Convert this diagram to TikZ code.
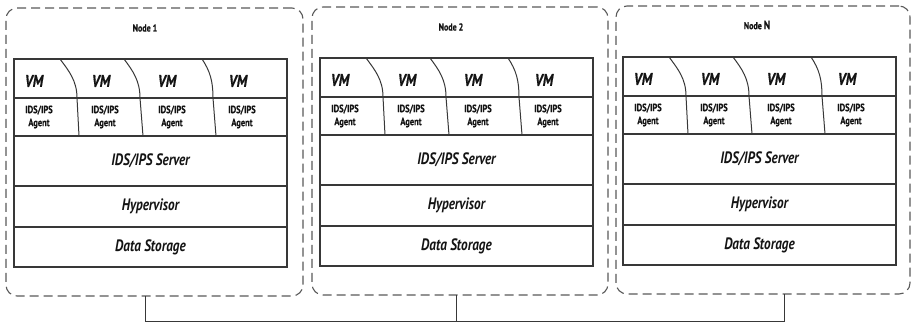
\documentclass[tikz,border=0pt]{standalone}
\usepackage{fontspec}
\newfontfamily\lblfont[FakeStretch=0.8]{PT Sans}
\newfontfamily\heavyfont[FakeStretch=0.8, FakeBold=0.6]{PT Sans}
\definecolor{ink}{HTML}{141414}
\definecolor{linegray}{HTML}{383838}
\definecolor{dashgray}{HTML}{5A5A5A}

% One host: VM row, agent row and the three shared layers below them.
% #1 name prefix, #2 left edge, #3 top edge
\newcommand\hoststack[3]{%
\begin{scope}[shift={(#2,#3)}]
  \node[layer, minimum height=39pt] (#1vm)  at (0,0)   {};
  \node[layer, minimum height=38pt] (#1ag)  at (0,39)  {};
  \node[layer, minimum height=50pt] (#1srv) at (0,77)  {IDS/IPS Server};
  \node[layer, minimum height=41pt] (#1hyp) at (0,127) {Hypervisor};
  \node[layer, minimum height=40pt] (#1sto) at (0,168) {Data Storage};
  \draw[line width=2.2pt, draw=linegray] (#1ag.south west) -- (#1ag.south east);
  % curved separators between the virtual machines
  \draw[divider] (46,0)  .. controls (55,12)  and (63,22)  .. (63,39)  -- (65,77);
  \draw[divider] (110,0) .. controls (119,12) and (126,22) .. (126,39) -- (129,77);
  \draw[divider] (188,0) .. controls (196,12) and (199,22) .. (199,39) -- (202,77);
  \node[vmlabel] (#1vmA) at (20,22)  {VM};
  \node[vmlabel] (#1vmB) at (87,22)  {VM};
  \node[vmlabel] (#1vmC) at (153,22) {VM};
  \node[vmlabel] (#1vmD) at (224,22) {VM};
  \node[agentlabel] (#1agA) at (25,58)  {IDS/IPS\\Agent};
  \node[agentlabel] (#1agB) at (91,58)  {IDS/IPS\\Agent};
  \node[agentlabel] (#1agC) at (158,58) {IDS/IPS\\Agent};
  \node[agentlabel] (#1agD) at (228,58) {IDS/IPS\\Agent};
\end{scope}}

\begin{document}
\begin{tikzpicture}[x=1pt, y=-1pt,
  cluster/.style={draw=dashgray, line width=1.1pt, dash pattern=on 9pt off 5pt,
    rounded corners=11pt, inner sep=0pt, outer sep=0pt},
  layer/.style={draw=linegray, line width=1.1pt, minimum width=273pt,
    inner sep=0pt, outer sep=0pt, anchor=north west, text=ink,
    font=\lblfont\bfseries\itshape\fontsize{16.5}{16.5}\selectfont},
  vmlabel/.style={font=\heavyfont\bfseries\itshape\fontsize{17}{17}\selectfont,
    text=ink, inner sep=0pt},
  agentlabel/.style={font=\heavyfont\bfseries\fontsize{10.5}{13}\selectfont,
    align=center, text=ink, inner sep=0pt},
  title/.style={font=\heavyfont\bfseries\fontsize{10}{10}\selectfont, text=ink},
  divider/.style={draw=linegray, line width=1pt},
  bus/.style={draw=linegray, line width=1pt}]

\useasboundingbox[fill=white] (0,0) rectangle (912,324);

% dashed host enclosures
\node[cluster, minimum width=297pt, minimum height=288pt] (n1) at (154.5,152) {};
\node[cluster, minimum width=296pt, minimum height=288pt] (n2) at (460,151) {};
\node[cluster, minimum width=294pt, minimum height=288pt] (nN) at (763,150) {};

\node[title] (t1) at (145,28) {Node 1};
\node[title] (t2) at (451,27) {Node 2};
\node[title] (tN) at (757,25) {Node {\fontsize{12}{12}\selectfont N}};

\hoststack{a}{14}{59}
\hoststack{b}{320}{58}
\hoststack{c}{623}{57}

% interconnect bus
\coordinate (bus1) at (145,321.5);
\coordinate (bus2) at (456,321.5);
\coordinate (busN) at (784,321.5);
\draw[bus] (n1.south -| bus1) -- (bus1) -- (busN) -- (nN.south -| busN);
\draw[bus] (n2.south -| bus2) -- (bus2);
\end{tikzpicture}
\end{document}
